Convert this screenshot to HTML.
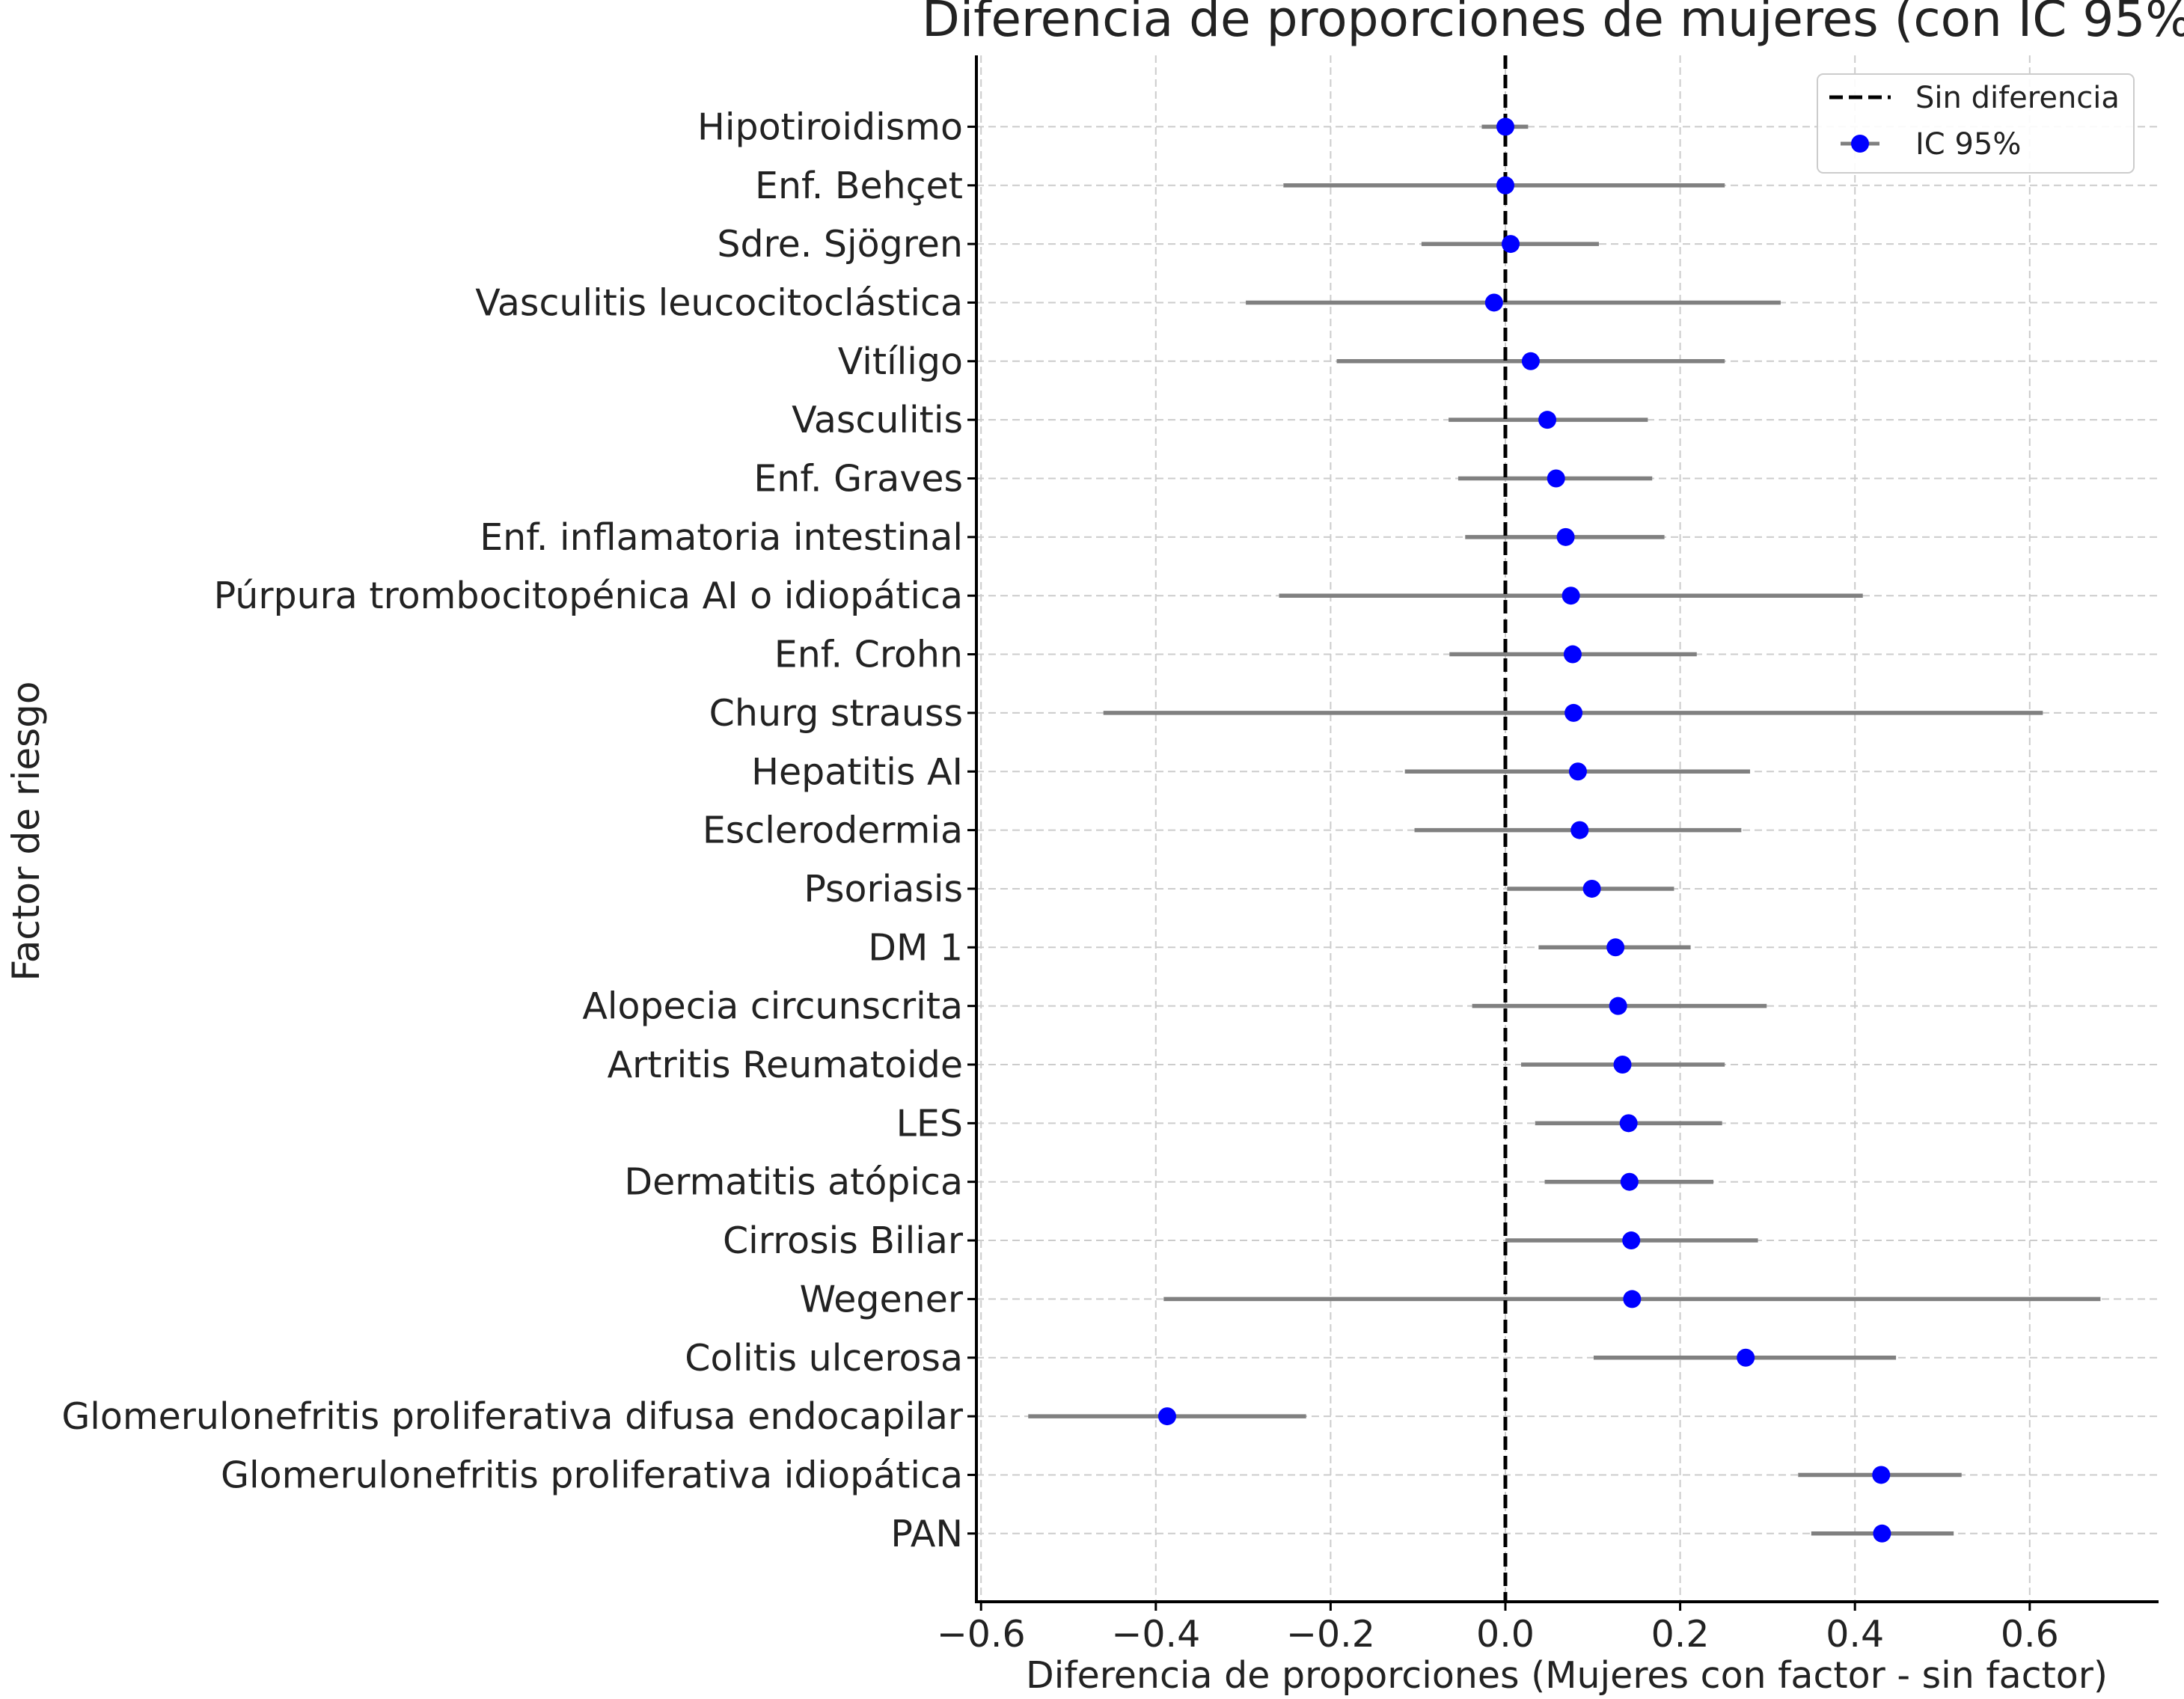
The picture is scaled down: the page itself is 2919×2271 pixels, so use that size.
<!DOCTYPE html>
<html><head><meta charset="utf-8"><style>
html,body{margin:0;padding:0;background:#fff;}
svg{display:block;font-family:"DejaVu Sans","Liberation Sans",sans-serif;}
</style></head><body>
<svg id="chart" width="2919" height="2271" viewBox="0 0 2919 2271" xmlns="http://www.w3.org/2000/svg">
<text x="1232" y="48" font-size="66" fill="#222">Diferencia de proporciones de mujeres (con IC 95%)</text>
<g id="grid"></g>
<g id="bars"></g>
<line id="zeroLine" x1="0" y1="74" x2="0" y2="2141" stroke="#000" stroke-width="5" stroke-dasharray="18,8"/>
<g id="points"></g>
<g id="axes"></g>
<text x="2094" y="2256" font-size="49" text-anchor="middle" fill="#222">Diferencia de proporciones (Mujeres con factor - sin factor)</text>
<text transform="translate(52,1111) rotate(-90)" font-size="50" text-anchor="middle" fill="#222">Factor de riesgo</text>
<g>
<rect x="2429" y="99" width="423" height="132" rx="8" fill="#fff" fill-opacity="0.9" stroke="#ccc" stroke-width="2"/>
<line x1="2445" y1="130" x2="2527" y2="130" stroke="#000" stroke-width="5" stroke-dasharray="18,8"/>
<text x="2560" y="144" font-size="40" fill="#222">Sin diferencia</text>
<line x1="2460" y1="192" x2="2512" y2="192" stroke="#808080" stroke-width="5"/>
<circle cx="2486" cy="192" r="12" fill="#0000ff"/>
<text x="2560" y="206" font-size="40" fill="#222">IC 95%</text>
</g>
</svg>
<script>
const categories = ["Hipotiroidismo","Enf. Behçet","Sdre. Sjögren","Vasculitis leucocitoclástica","Vitíligo","Vasculitis","Enf. Graves","Enf. inflamatoria intestinal","Púrpura trombocitopénica AI o idiopática","Enf. Crohn","Churg strauss","Hepatitis AI","Esclerodermia","Psoriasis","DM 1","Alopecia circunscrita","Artritis Reumatoide","LES","Dermatitis atópica","Cirrosis Biliar","Wegener","Colitis ulcerosa","Glomerulonefritis proliferativa difusa endocapilar","Glomerulonefritis proliferativa idiopática","PAN"];
const estimates = [0.0,0.0,0.006,-0.013,0.029,0.048,0.058,0.069,0.075,0.077,0.078,0.083,0.085,0.099,0.126,0.129,0.134,0.141,0.142,0.144,0.145,0.275,-0.387,0.43,0.431];
const lower = [-0.027,-0.254,-0.096,-0.297,-0.193,-0.065,-0.054,-0.046,-0.259,-0.064,-0.46,-0.115,-0.104,0.002,0.038,-0.038,0.018,0.034,0.045,0.0,-0.391,0.101,-0.546,0.335,0.35];
const upper = [0.026,0.251,0.107,0.315,0.251,0.163,0.168,0.182,0.409,0.219,0.615,0.28,0.27,0.193,0.212,0.299,0.251,0.248,0.238,0.289,0.681,0.447,-0.228,0.522,0.513];
const xTicks = [-0.6,-0.4,-0.2,0.0,0.2,0.4,0.6];
const xTickLabels = ["\u22120.6","\u22120.4","\u22120.2","0.0","0.2","0.4","0.6"];

const NS="http://www.w3.org/2000/svg";
const L=1305,R=2885,T=74,B=2141;
function xs(v){return 2012+v*1168;}
function ys(i){return 169.4+i*78.35;}
function mk(tag,attrs,parent,text){const e=document.createElementNS(NS,tag);for(const k in attrs)e.setAttribute(k,attrs[k]);if(text!==undefined)e.textContent=text;parent.appendChild(e);return e;}
const grid=document.getElementById('grid'),bars=document.getElementById('bars'),pts=document.getElementById('points'),axes=document.getElementById('axes');
document.getElementById('zeroLine').setAttribute('x1',xs(0));
document.getElementById('zeroLine').setAttribute('x2',xs(0));
xTicks.forEach((t,i)=>{
  const g=mk('line',{x1:xs(t),x2:xs(t),y1:T,y2:B,stroke:'#cccccc','stroke-width':2,'stroke-dasharray':'10,6'},grid);
  
  
  const tk=mk('line',{x1:xs(t),x2:xs(t),y1:B,y2:B+12,stroke:'#000','stroke-width':3},axes);
  
  
  const lb=mk('text',{x:xs(t),y:B+60,'font-size':49,'text-anchor':'middle',fill:'#222'},axes,xTickLabels[i]);
  
  
});
categories.forEach((c,i)=>{
  const y=ys(i);
  const g=mk('line',{x1:L,x2:R,y1:y,y2:y,stroke:'#cccccc','stroke-width':2,'stroke-dasharray':'10,6'},grid);
  
  
  const tk=mk('line',{x1:L-12,x2:L,y1:y,y2:y,stroke:'#000','stroke-width':3},axes);
  
  
  const lb=mk('text',{x:1287,y:y+17,'font-size':49,'text-anchor':'end',fill:'#222'},axes,c);
  
  
  const b=mk('line',{x1:xs(lower[i]),x2:xs(upper[i]),y1:y,y2:y,stroke:'#808080','stroke-width':5.5},bars);
  
  
  const p=mk('circle',{cx:xs(estimates[i]),cy:y,r:12,fill:'#0000ff'},pts);
  
  
});
const ya=mk('line',{x1:L,x2:L,y1:T,y2:B+2,stroke:'#000','stroke-width':4},axes);


const xa=mk('line',{x1:L-2,x2:R,y1:B,y2:B,stroke:'#000','stroke-width':4},axes);


</script>
</body></html>
